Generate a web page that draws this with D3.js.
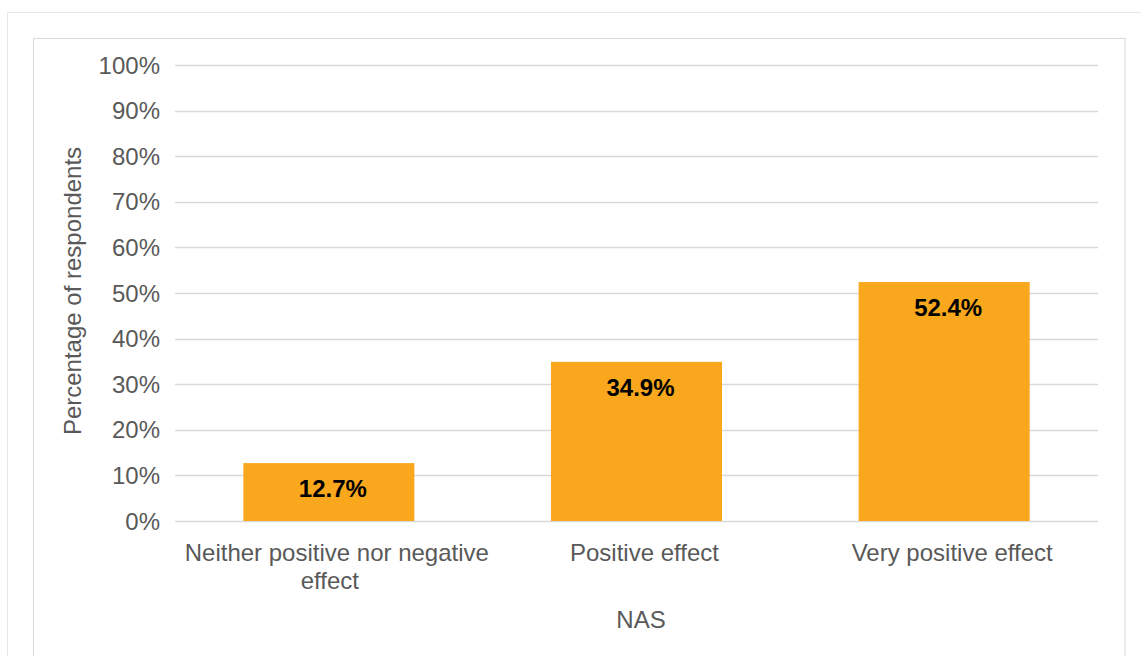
<!DOCTYPE html>
<html><head><meta charset="utf-8">
<script src="https://cdn.jsdelivr.net/npm/d3@7"></script>
<style>body{margin:0;background:#fff;} text{font-family:"Liberation Sans",Arial,sans-serif;}</style>
</head><body><svg id="c" width="1141" height="656"></svg>
<script>
const categories = [["Neither positive nor negative","effect"],["Positive effect"],["Very positive effect"]];
const values = [12.7, 34.9, 52.4];
const yTicks = [0,10,20,30,40,50,60,70,80,90,100];
const xTitle = "NAS";
const yTitle = "Percentage of respondents";

const svg = d3.select("#c");
svg.append("rect").attr("x",7.5).attr("y",12.5).attr("width",1145).attr("height",660).attr("fill","#fff").attr("stroke","#e6e6e6");
svg.append("rect").attr("x",33.5).attr("y",38.5).attr("width",1091.5).attr("height",640).attr("fill","#fff").attr("stroke","#d9d9d9");

const x = d3.scaleBand().domain(d3.range(values.length)).range([175,1098]).paddingInner(0.444).paddingOuter(0.222);
const y = d3.scaleLinear().domain([0,100]).range([521,65]);

svg.append("g").selectAll("line").data(yTicks).join("line")
  .attr("x1",175).attr("x2",1098).attr("y1",d=>Math.round(y(d))+0.5).attr("y2",d=>Math.round(y(d))+0.5)
  .attr("stroke","#d9d9d9").attr("stroke-width",1.3);

svg.append("g").selectAll("text").data(yTicks).join("text")
  .attr("x",160).attr("y",d=>y(d)+8.5).attr("text-anchor","end")
  .attr("font-size",24).attr("fill","#595959").text(d=>d+"%");

svg.append("g").selectAll("rect").data(values).join("rect")
  .attr("x",(d,i)=>x(i)).attr("width",x.bandwidth())
  .attr("y",d=>y(d)).attr("height",d=>y(0)-y(d)).attr("fill","#F9A81E");

svg.append("g").selectAll("text").data(values).join("text")
  .attr("x",(d,i)=>x(i)+x.bandwidth()/2+4).attr("y",d=>y(d)+34)
  .attr("text-anchor","middle").attr("font-size",24).attr("font-weight","bold").attr("fill","#000")
  .text(d=>d.toFixed(1)+"%");

const cl = svg.append("g").selectAll("text").data(categories).join("text")
  .attr("x",(d,i)=>x(i)+x.bandwidth()/2).attr("y",561)
  .attr("text-anchor","middle").attr("font-size",24).attr("fill","#595959");
cl.each(function(d,i){
  const t=d3.select(this);
  d.forEach((line,j)=>t.append("tspan").attr("x",x(i)+x.bandwidth()/2+(j?1:8)).attr("dy",j?28:0).text(line));
});

svg.append("text").attr("x",641).attr("y",628).attr("text-anchor","middle").attr("font-size",24).attr("fill","#595959").text(xTitle);
svg.append("text").attr("transform","translate(81,291) rotate(-90)").attr("text-anchor","middle").attr("font-size",24).attr("fill","#595959").text(yTitle);
</script></body></html>
